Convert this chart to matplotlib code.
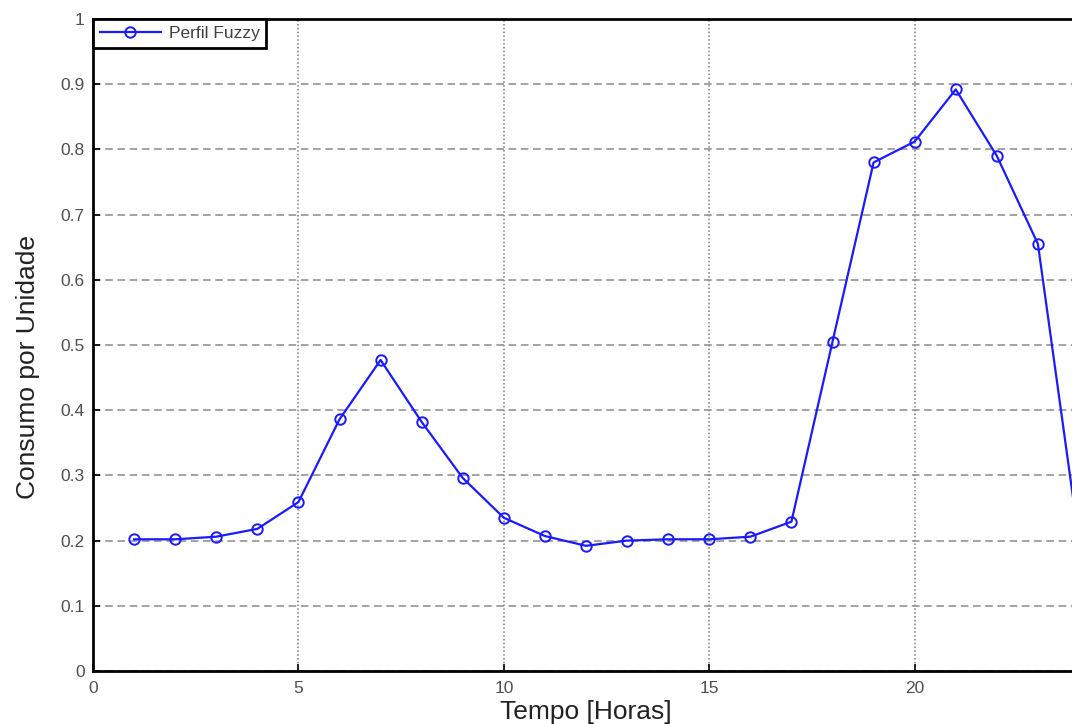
import numpy as np
import matplotlib
matplotlib.use("Agg")
import matplotlib.pyplot as plt

# Perfil de consumo (por unidade) ao longo do dia
horas = list(range(1, 25))
consumo = [0.202, 0.202, 0.206, 0.218, 0.259, 0.386, 0.477, 0.382,
           0.296, 0.235, 0.207, 0.192, 0.200, 0.202, 0.202, 0.206,
           0.229, 0.505, 0.780, 0.812, 0.892, 0.790, 0.655, 0.200]
x_ticks = [0, 5, 10, 15, 20]
y_ticks = [0, 0.1, 0.2, 0.3, 0.4, 0.5, 0.6, 0.7, 0.8, 0.9, 1]
y_tick_labels = ['0', '0.1', '0.2', '0.3', '0.4', '0.5', '0.6', '0.7', '0.8', '0.9', '1']

plt.rcParams['font.family'] = ['Liberation Sans', 'DejaVu Sans']

W, H = 1072, 724
fig = plt.figure(figsize=(W / 100, H / 100), dpi=100)
# axes deliberately runs a little past the right edge, like the cropped original
left, right, bottom, top = 93, 1079, 671, 19
ax = fig.add_axes([left / W, (H - bottom) / H, (right - left) / W, (bottom - top) / H])

ax.plot(horas, consumo, color='#1a1aff', lw=1.6, marker='o', ms=7.5,
        mfc='none', mec='#1a1aff', mew=1.4, label='Perfil Fuzzy', zorder=3)

ax.set_xlim(0, 24)
ax.set_ylim(0, 1)
ax.set_xticks(x_ticks)
ax.set_yticks(y_ticks)
ax.set_yticklabels(y_tick_labels)

ax.tick_params(direction='in', length=5, width=1.2, colors='black',
               labelcolor='#505050', labelsize=12.5, pad=6)
ax.tick_params(axis='x', pad=7)

ax.xaxis.grid(True, color='#7a7a7a', ls=(0, (1, 1.5)), lw=1.1)
ax.yaxis.grid(True, color='#8a8a8a', ls=(0, (5, 3)), lw=1.1)
ax.set_axisbelow(True)

for s in ax.spines.values():
    s.set_linewidth(2)
    s.set_color('black')

ax.set_ylabel('Consumo por Unidade', fontsize=19, color='#222222')
ax.yaxis.set_label_coords(-0.054, 0.466)
ax.set_xlabel('Tempo [Horas]', fontsize=19, color='#222222', labelpad=3)

leg = ax.legend(loc='upper left', bbox_to_anchor=(0, 1), borderaxespad=0,
                fontsize=12.5, fancybox=False, framealpha=1,
                handlelength=3.5, borderpad=0.4, handletextpad=0.45)
leg.get_frame().set_edgecolor('black')
leg.get_frame().set_linewidth(2)
for t in leg.get_texts():
    t.set_color('#404040')

fig.savefig('out.png', dpi=100)
